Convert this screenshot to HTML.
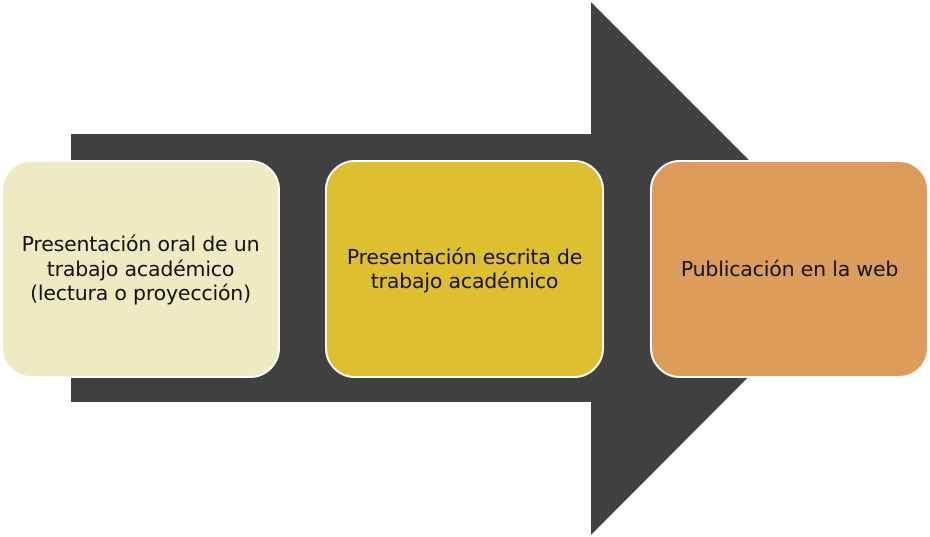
<!DOCTYPE html>
<html><head><meta charset="utf-8"><style>
body{margin:0;width:930px;height:537px;background:#fff;position:relative;overflow:hidden;font-family:"DejaVu Sans","Liberation Sans",sans-serif}
.b{position:absolute;top:160px;height:214px;width:275px;border:2px solid #fff;border-radius:30px;display:flex;align-items:center;justify-content:center;text-align:center;font-size:20.5px;line-height:24.5px;color:#111;box-sizing:content-box;letter-spacing:-0.2px}
</style></head><body>
<svg width="930" height="537" style="position:absolute;left:0;top:0">
<polygon points="71,134 591,134 591,2 857,268 591,535 591,402 71,402" fill="#414141"/>
</svg>
<div class="b" style="left:1px;background:#EEEBC3">Presentación oral de un<br>trabajo académico<br>(lectura o proyección)</div>
<div class="b" style="left:325px;background:#DEBF30">Presentación escrita de<br>trabajo académico</div>
<div class="b" style="left:650px;background:#DC9C5A">Publicación en la web</div>
</body></html>
